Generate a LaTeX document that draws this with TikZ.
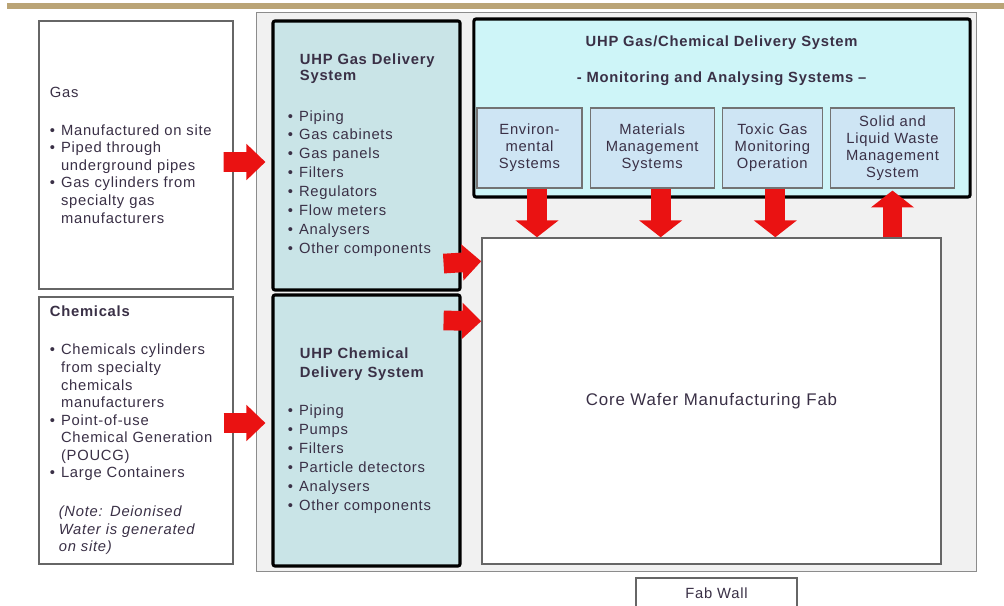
\documentclass[tikz,border=0pt]{standalone}
\usepackage{fontspec}
\setmainfont{Liberation Sans}[LetterSpace=5]
\usepackage{xcolor}
\usetikzlibrary{positioning,calc,arrows.meta}
\definecolor{tanbar}{RGB}{186,164,118}
\definecolor{wallgray}{RGB}{241,241,241}
\definecolor{uhpteal}{RGB}{201,228,231}
\definecolor{monicyan}{RGB}{206,245,248}
\definecolor{subblue}{RGB}{206,229,244}
\definecolor{txt}{RGB}{58,48,70}
\definecolor{arrowred}{RGB}{234,18,18}
\newcommand{\bul}{\makebox[0.75em][l]{\textbullet}}
\newcommand{\ind}{\hspace*{0.75em}}

\begin{document}
\begin{tikzpicture}[
    x=0.025cm, y=-0.025cm,
    font=\fontsize{10.5}{12.5}\selectfont,
    wallbox/.style={rectangle, draw=black!45, fill=wallgray, line width=0.8pt},
    srcbox/.style={rectangle, draw=black!60, fill=white, line width=0.9pt, inner xsep=0.275cm, inner ysep=0pt, text width=4.3cm, minimum width=4.85cm, align=left, text=txt},
    uhpbox/.style={rectangle, draw=black, fill=uhpteal, line width=2.2pt, rounded corners=1.5pt, inner xsep=0.375cm, inner ysep=0pt, text width=3.925cm, minimum width=4.675cm, align=left, text=txt, font=\fontsize{10.5}{13.5}\selectfont},
    monbox/.style={rectangle, draw=black, fill=monicyan, line width=2.2pt, rounded corners=1.5pt},
    subbox/.style={rectangle, draw=black!55, fill=subblue, line width=0.8pt, minimum height=2cm, inner sep=2pt, align=center, text=txt, font=\fontsize{10.5}{12}\selectfont},
    corebox/.style={rectangle, draw=black!60, fill=white, line width=1pt, text=txt, font=\fontsize{12}{14}\selectfont},
    sidearrow/.style={draw=arrowred, line width=14pt, -{Triangle[length=13.5pt, width=25pt]}},
    droparrow/.style={draw=arrowred, line width=14pt, -{Triangle[length=12pt, width=30pt]}},
    node distance=0.175cm
]
    \useasboundingbox (0,0) rectangle (1004,605);
    \fill[tanbar] (7,3) rectangle (1004,9);

    % fab wall area
    \node[wallbox, minimum width=17.975cm, minimum height=13.95cm] (wall) at (616.5,292) {};

    % sources outside the fab
    \node[srcbox, minimum height=6.7cm] (gas) at (136,155) {%
        Gas\\[14.5pt]
        \bul Manufactured on site\\
        \bul Piped through\\
        \ind underground pipes\\
        \bul Gas cylinders from\\
        \ind specialty gas\\
        \ind manufacturers};
    \node[srcbox, minimum height=6.675cm] (chem) at (136,430.5) {%
        \textbf{Chemicals}\\[14.5pt]
        \bul Chemicals cylinders\\
        \ind from specialty\\
        \ind chemicals\\
        \ind manufacturers\\
        \bul Point-of-use\\
        \ind Chemical Generation\\
        \ind (POUCG)\\
        \bul Large Containers\\[15pt]
        \hspace*{0.6em}\textit{(Note: Deionised}\\
        \hspace*{0.6em}\textit{Water is generated}\\
        \hspace*{0.6em}\textit{on site)}};

    % delivery systems
    \node[uhpbox, minimum height=6.725cm] (uhpgas) at (366.5,155.5) {%
        \hspace*{0.3cm}\textbf{UHP Gas Delivery}\\[-2pt]
        \hspace*{0.3cm}\textbf{System}\\[15pt]
        \bul Piping\\
        \bul Gas cabinets\\
        \bul Gas panels\\
        \bul Filters\\
        \bul Regulators\\
        \bul Flow meters\\
        \bul Analysers\\
        \bul Other components};
    \node[uhpbox, minimum height=6.775cm] (uhpchem) at (366.5,430.5) {%
        \hspace*{0.3cm}\textbf{UHP Chemical}\\
        \hspace*{0.3cm}\textbf{Delivery System}\\[13.5pt]
        \bul Piping\\
        \bul Pumps\\
        \bul Filters\\
        \bul Particle detectors\\
        \bul Analysers\\
        \bul Other components};

    % monitoring and analysing systems
    \node[monbox, minimum width=12.4cm, minimum height=4.45cm] (mon) at (722,108) {};
    \node[text=txt] (montitle) at (722,43) {\textbf{UHP Gas/Chemical Delivery System}};
    \node[text=txt] (monsub) at (722,79) {\textbf{- Monitoring and Analysing Systems --}};
    \node[subbox, minimum width=2.625cm] (env) at (529.5,148) {Environ-\\mental\\Systems};
    \node[subbox, minimum width=3.1cm, right=of env] (mat) {Materials\\Management\\Systems};
    \node[subbox, minimum width=2.5cm, right=of mat] (tox) {Toxic Gas\\Monitoring\\Operation};
    \node[subbox, minimum width=3.1cm, right=of tox] (waste) {Solid and\\Liquid Waste\\Management\\System};

    % the fab itself
    \node[corebox, minimum width=11.475cm, minimum height=8.15cm] (core) at (711.5,401) {Core Wafer Manufacturing Fab};
    \node[corebox, font=\fontsize{10.5}{12.5}\selectfont, minimum width=4.025cm, minimum height=0.75cm] (fabwall) at (716.5,593) {Fab Wall};

    % flows
    \draw[sidearrow] ($(gas.east)+(-10,7)$) -- ($(uhpgas.west)+(-6,6.5)$);
    \draw[sidearrow] ($(chem.east)+(-10,-7.5)$) -- ($(uhpchem.west)+(-6,-7.5)$);
    \draw[sidearrow] ($(uhpgas.south east)+(-18,-28)$) -- ($(core.north west)+(0,24)$);
    \draw[sidearrow] ($(uhpchem.north east)+(-18,27)$) -- ($(core.north west)+(0,84)$);

    \coordinate (envfoot) at ($(env.south)+(7.5,0)$);
    \coordinate (matfoot) at ($(mat.south)+(8.5,0)$);
    \coordinate (toxfoot) at ($(tox.south)+(3,0)$);
    \coordinate (wastefoot) at ($(waste.south)+(0,2)$);
    \draw[droparrow] (envfoot) -- (envfoot |- core.north);
    \draw[droparrow] (matfoot) -- (matfoot |- core.north);
    \draw[droparrow] (toxfoot) -- (toxfoot |- core.north);
    \draw[droparrow] (wastefoot |- core.north) -- (wastefoot);
\end{tikzpicture}
\end{document}
